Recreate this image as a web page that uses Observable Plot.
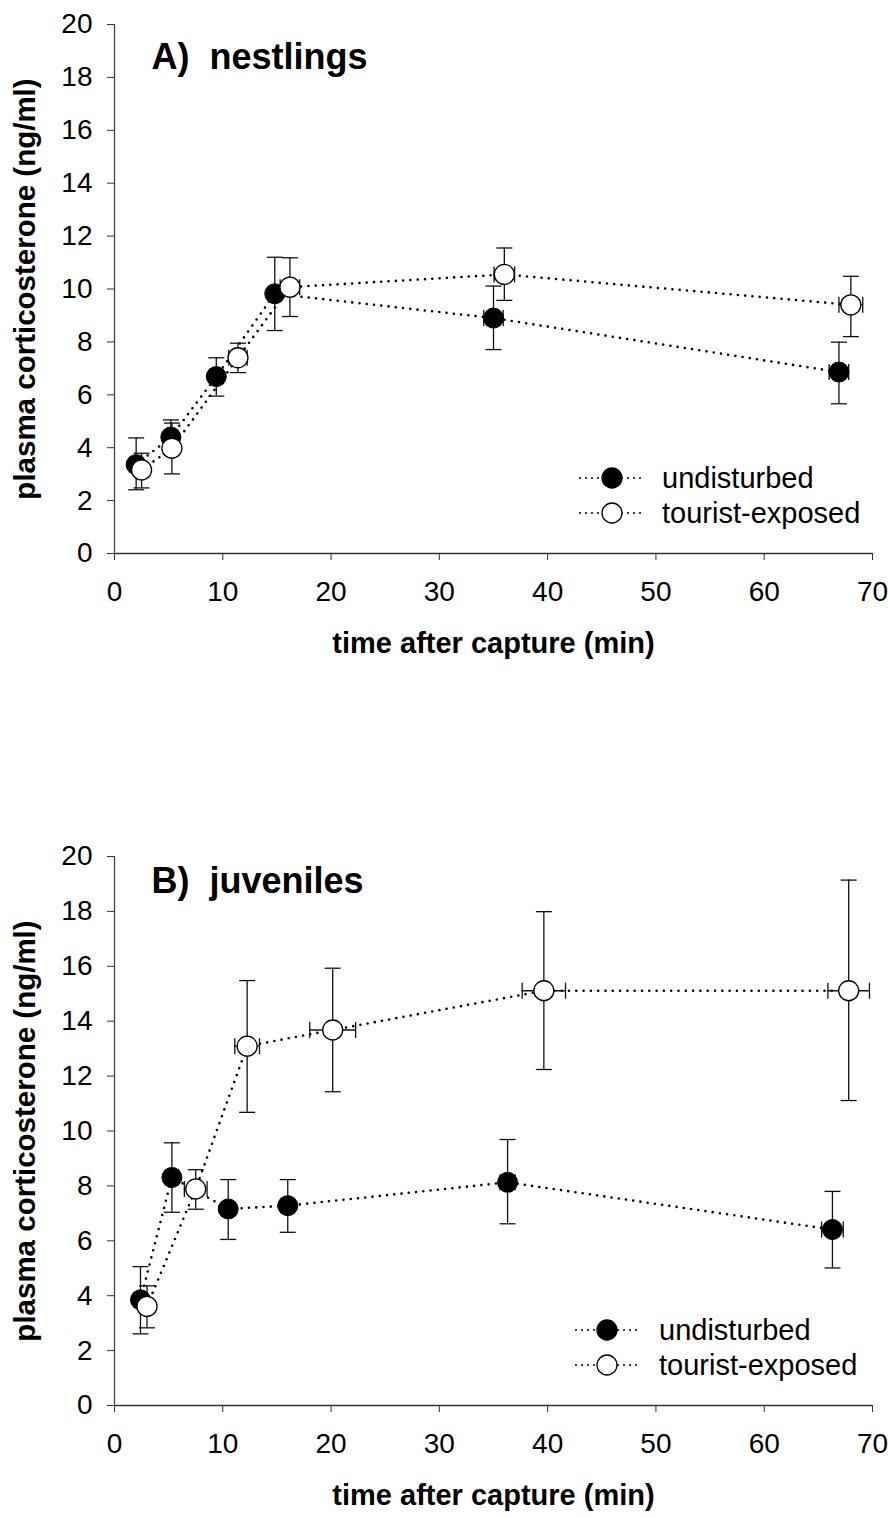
<!DOCTYPE html>
<html>
<head>
<meta charset="utf-8">
<script src="https://cdn.jsdelivr.net/npm/d3@7"></script>
<script src="https://cdn.jsdelivr.net/npm/@observablehq/plot@0.6"></script>
<style>
  body { margin: 0; background: #fff; }
  #figure { position: relative; width: 888px; height: 1517px; background: #fff; }
  #figure svg { position: absolute; left: 0; }
</style>
</head>
<body>
<div id="figure"></div>
<script>
// ---- Panel A: nestlings ----
const nestUndTime   = [2.0, 5.2, 9.4, 14.8, 35.0, 66.9];
const nestUndCort   = [3.36, 4.40, 6.69, 9.82, 8.90, 6.86];
const nestUndLow    = [2.41, 3.75, 5.95, 8.43, 7.71, 5.66];
const nestUndHigh   = [4.37, 5.05, 7.40, 11.20, 10.11, 7.99];
const nestUndTimeSE = [0.6, 0.6, 0.6, 0.6, 0.9, 0.9];

const nestTourTime   = [2.5, 5.3, 11.4, 16.2, 36.0, 68.0];
const nestTourCort   = [3.16, 3.98, 7.40, 10.07, 10.55, 9.40];
const nestTourLow    = [2.48, 3.01, 6.84, 8.96, 9.57, 8.20];
const nestTourHigh   = [3.79, 4.93, 7.95, 11.18, 11.55, 10.48];
const nestTourTimeSE = [0.6, 0.6, 0.85, 0.9, 0.95, 1.1];

// ---- Panel B: juveniles ----
const juvUndTime   = [2.4, 5.3, 10.5, 16.0, 36.3, 66.3];
const juvUndCort   = [3.85, 8.31, 7.16, 7.28, 8.13, 6.41];
const juvUndLow    = [2.61, 7.04, 6.05, 6.31, 6.62, 5.01];
const juvUndHigh   = [5.06, 9.57, 8.23, 8.23, 9.69, 7.80];
const juvUndTimeSE = [0.6, 0.6, 0.6, 0.6, 0.7, 1.0];

const juvTourTime   = [3.0, 7.5, 12.25, 20.15, 39.65, 67.8];
const juvTourCort   = [3.61, 7.89, 13.09, 13.68, 15.11, 15.11];
const juvTourLow    = [2.83, 7.15, 10.68, 11.43, 12.24, 11.11];
const juvTourHigh   = [4.36, 8.59, 15.48, 15.93, 17.99, 19.14];
const juvTourTimeSE = [0.6, 1.05, 1.14, 2.12, 2.0, 1.92];

// ---- shared labels ----
const groupNames = ["undisturbed", "tourist-exposed"];
const panelTitles = ["A)\u00a0\u00a0nestlings", "B)\u00a0\u00a0juveniles"];
const xTicks = [0, 10, 20, 30, 40, 50, 60, 70];
const yTicks = [0, 2, 4, 6, 8, 10, 12, 14, 16, 18, 20];
const xTitle = "time after capture (min)";
const yTitle = "plasma corticosterone (ng/ml)";

const FONT = "'Liberation Sans', Arial, Helvetica, sans-serif";

function rows(time, cort, low, high, tse) {
  return time.map((t, i) => ({t, c: cort[i], lo: low[i], hi: high[i], t0: t - tse[i], t1: t + tse[i]}));
}

// short caps drawn at the ends of error bars
const capH = {draw(ctx) { ctx.moveTo(-8, 0); ctx.lineTo(8, 0); }};
const capV = {draw(ctx) { ctx.moveTo(0, -8); ctx.lineTo(0, 8); }};

function errorMarks(data) {
  const s = {stroke: "#111", strokeWidth: 1.3};
  return [
    Plot.ruleX(data, {x: "t", y1: "lo", y2: "hi", ...s}),
    Plot.ruleY(data, {y: "c", x1: "t0", x2: "t1", ...s}),
    Plot.dot(data, {x: "t", y: "lo", symbol: capH, fill: "none", ...s}),
    Plot.dot(data, {x: "t", y: "hi", symbol: capH, fill: "none", ...s}),
    Plot.dot(data, {x: "t0", y: "c", symbol: capV, fill: "none", ...s}),
    Plot.dot(data, {x: "t1", y: "c", symbol: capV, fill: "none", ...s})
  ];
}

const dotted = {stroke: "black", strokeWidth: 2.6, strokeDasharray: "0,7.3", strokeLinecap: "round"};

function panel({svgTop, height, marginTop, marginBottom, title, titleDy, und, tour, legendRows}) {
  const chart = Plot.plot({
    width: 888,
    height,
    marginLeft: 114,
    marginRight: 16,
    marginTop,
    marginBottom,
    style: {fontFamily: FONT, fontSize: "28px", color: "black", background: "white"},
    x: {domain: [0, 70]},
    y: {domain: [0, 20]},
    marks: [
      Plot.axisY({ticks: yTicks, tickSize: 7, tickPadding: 15, label: null, fontSize: 28, stroke: "#333"}),
      Plot.axisX({ticks: xTicks, tickSize: 7, tickPadding: 21, label: null, fontSize: 28, stroke: "#333"}),
      Plot.ruleX([0], {stroke: "#444", strokeWidth: 1.3}),
      Plot.ruleY([0], {stroke: "#333", strokeWidth: 1.3}),
      Plot.line(und, {x: "t", y: "c", ...dotted}),
      Plot.line(tour, {x: "t", y: "c", ...dotted}),
      ...errorMarks(und),
      Plot.dot(und, {x: "t", y: "c", r: 10, fill: "black", stroke: "black", strokeWidth: 1}),
      ...errorMarks(tour),
      Plot.dot(tour, {x: "t", y: "c", r: 10, fill: "white", stroke: "black", strokeWidth: 1.3}),
      Plot.text([title], {frameAnchor: "top-left", textAnchor: "start", lineAnchor: "bottom",
        dx: 37, dy: titleDy, fontSize: 36, fontWeight: "bold"}),
      Plot.text([yTitle], {frameAnchor: "left", textAnchor: "middle", rotate: -90,
        dx: -89, fontSize: 29.5, fontWeight: "bold"}),
      Plot.text([xTitle], {frameAnchor: "bottom", textAnchor: "middle", lineAnchor: "bottom",
        dy: 99, fontSize: 29, fontWeight: "bold"})
    ]
  });
  chart.style.top = svgTop + "px";

  // legend: dotted segment, marker and group name
  const svg = d3.select(chart);
  const g = svg.append("g")
    .attr("font-family", FONT)
    .attr("font-size", 29)
    .attr("text-anchor", "start");
  groupNames.forEach((name, i) => {
    const y = legendRows.y[i];
    g.append("line")
      .attr("x1", legendRows.x0).attr("x2", legendRows.x1)
      .attr("y1", y).attr("y2", y)
      .attr("stroke", "black").attr("stroke-width", 2)
      .attr("stroke-dasharray", "0,6").attr("stroke-linecap", "round");
    g.append("circle")
      .attr("cx", legendRows.cx).attr("cy", y).attr("r", 10)
      .attr("fill", i === 0 ? "black" : "white")
      .attr("stroke", "black").attr("stroke-width", 1.3);
    g.append("text")
      .attr("x", legendRows.tx).attr("y", y).attr("dy", "0.34em")
      .attr("text-anchor", "start")
      .attr("fill", "black").text(name);
  });
  return chart;
}

const fig = document.getElementById("figure");

fig.appendChild(panel({
  svgTop: 0, height: 700, marginTop: 24, marginBottom: 147,
  title: panelTitles[0], titleDy: 44,
  und: rows(nestUndTime, nestUndCort, nestUndLow, nestUndHigh, nestUndTimeSE),
  tour: rows(nestTourTime, nestTourCort, nestTourLow, nestTourHigh, nestTourTimeSE),
  legendRows: {y: [478, 513], x0: 580, x1: 646, cx: 612, tx: 662}
}));

fig.appendChild(panel({
  svgTop: 760, height: 757, marginTop: 96, marginBottom: 112,
  title: panelTitles[1], titleDy: 36,
  und: rows(juvUndTime, juvUndCort, juvUndLow, juvUndHigh, juvUndTimeSE),
  tour: rows(juvTourTime, juvTourCort, juvTourLow, juvTourHigh, juvTourTimeSE),
  legendRows: {y: [570, 605], x0: 576, x1: 638, cx: 607, tx: 659}
}));
</script>
</body>
</html>
